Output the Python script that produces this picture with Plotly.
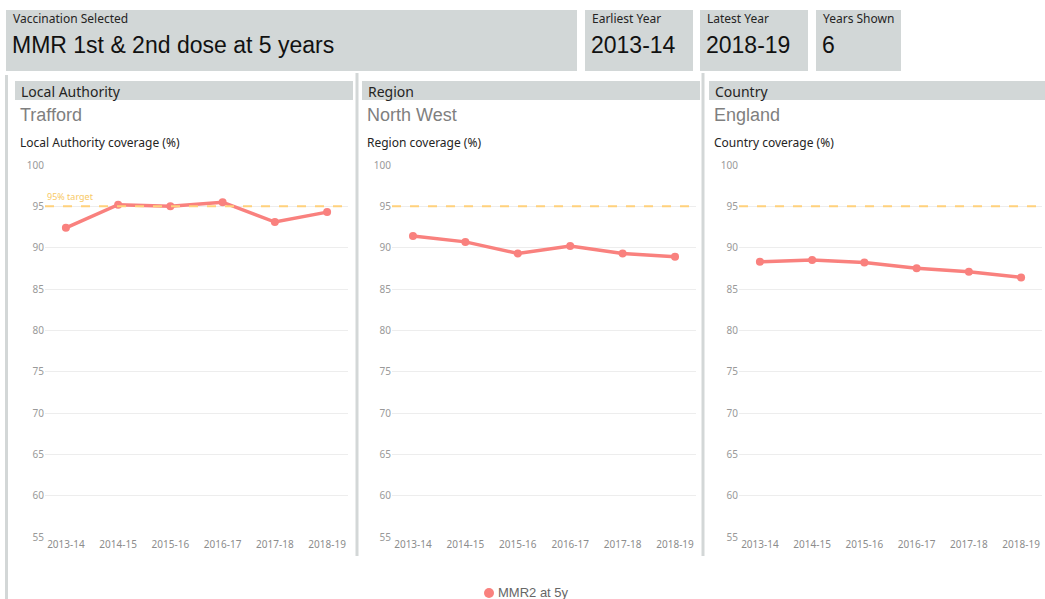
import plotly.graph_objects as go

W, H = 1045, 599

years = ["2013-14", "2014-15", "2015-16", "2016-17", "2017-18", "2018-19"]
la_values = [92.4, 95.2, 95.0, 95.5, 93.1, 94.3]
region_values = [91.4, 90.7, 89.3, 90.2, 89.3, 88.9]
country_values = [88.3, 88.5, 88.2, 87.5, 87.1, 86.4]
target_value = 95
series_name = "MMR2 at 5y"

panel_titles = ["Local Authority", "Region", "Country"]
panel_names = ["Trafford", "North West", "England"]
axis_titles = ["Local Authority coverage (%)", "Region coverage (%)", "Country coverage (%)"]
y_ticks = [55, 60, 65, 70, 75, 80, 85, 90, 95, 100]

vacc_label = "Vaccination Selected"
vacc_value = "MMR 1st & 2nd dose at 5 years"
card_labels = ["Earliest Year", "Latest Year", "Years Shown"]
card_values = ["2013-14", "2018-19", "6"]


def px(x):
    return x / W


def py(y):
    return 1 - y / H


LINE_COLOR = "#F9817E"
TARGET_COLOR = "#FFD17C"
BOX_COLOR = "#D2D7D7"
BORDER_COLOR = "#D3D7D7"
SMALL_FONT = "Noto Sans"
BIG_FONT = "Liberation Sans"

fig = go.Figure()

series = [la_values, region_values, country_values]
x_domains = [(45, 348), (392, 696), (739, 1042)]
panel_lefts = [15, 362, 709]
panel_rights = [353, 700, 1045]

shapes = []
annotations = []

# Top cards
cards = [(6, 577, vacc_label, vacc_value)] + [
    (x0, x1, lab, val)
    for (x0, x1), lab, val in zip([(585, 693), (700, 808), (816, 901)], card_labels, card_values)
]
for x0, x1, lab, val in cards:
    shapes.append(dict(type="rect", xref="paper", yref="paper", x0=px(x0), x1=px(x1),
                       y0=py(71), y1=py(10), fillcolor=BOX_COLOR, line=dict(width=0), layer="below"))
    annotations.append(dict(text=lab, xref="paper", yref="paper", x=px(x0 + 5), y=py(19),
                            xanchor="left", yanchor="middle", showarrow=False,
                            font=dict(family=SMALL_FONT, size=12, color="#252423")))
    annotations.append(dict(text=val, xref="paper", yref="paper", x=px(x0 + 4), y=py(45),
                            xanchor="left", yanchor="middle", showarrow=False,
                            font=dict(family=BIG_FONT, size=23, color="#111111")))

# Panel borders
for x, y0, y1 in [(6.5, 75, 599), (357, 73, 556), (703, 73, 556)]:
    shapes.append(dict(type="line", xref="paper", yref="paper", x0=px(x), x1=px(x),
                       y0=py(y1), y1=py(y0), line=dict(color=BORDER_COLOR, width=3), layer="below"))

for i in range(3):
    n = i + 1
    xa = "xaxis" if n == 1 else f"xaxis{n}"
    ya = "yaxis" if n == 1 else f"yaxis{n}"
    xr = "x" if n == 1 else f"x{n}"
    yr = "y" if n == 1 else f"y{n}"

    # header bar
    shapes.append(dict(type="rect", xref="paper", yref="paper", x0=px(panel_lefts[i]), x1=px(panel_rights[i]),
                       y0=py(100), y1=py(81), fillcolor=BOX_COLOR, line=dict(width=0), layer="below"))
    annotations.append(dict(text=panel_titles[i], xref="paper", yref="paper", x=px(panel_lefts[i] + 4), y=py(91),
                            xanchor="left", yanchor="middle", showarrow=False,
                            font=dict(family=SMALL_FONT, size=14, color="#252423")))
    annotations.append(dict(text=panel_names[i], xref="paper", yref="paper", x=px(panel_lefts[i] + 3), y=py(115),
                            xanchor="left", yanchor="middle", showarrow=False,
                            font=dict(family=BIG_FONT, size=18, color="#7F7F7F")))
    annotations.append(dict(text=axis_titles[i], xref="paper", yref="paper", x=px(panel_lefts[i] + 3), y=py(143),
                            xanchor="left", yanchor="middle", showarrow=False,
                            font=dict(family=SMALL_FONT, size=12, color="#252423")))

    fig.add_trace(go.Scatter(
        x=years, y=series[i], mode="lines+markers", name=series_name,
        line=dict(color=LINE_COLOR, width=3.5), marker=dict(color=LINE_COLOR, size=8),
        xaxis=xr, yaxis=yr, showlegend=False, hoverinfo="x+y"))

    # 95% target line
    shapes.append(dict(type="line", xref=f"{xr} domain", yref=yr, x0=0, x1=1,
                       y0=target_value, y1=target_value,
                       line=dict(color=TARGET_COLOR, width=2, dash="dash")))

    fig.update_layout(**{
        xa: dict(domain=[px(x_domains[i][0]), px(x_domains[i][1])], type="category",
                 categoryorder="array", categoryarray=years, range=[-0.4, 5.4],
                 showgrid=False, zeroline=False, showline=False, ticks="", automargin=False,
                 tickfont=dict(family=SMALL_FONT, size=10, color="#8C8C8C"), anchor=yr,
                 fixedrange=True),
        ya: dict(domain=[py(537), py(165)], range=[55, 100], tickvals=y_ticks,
                 showgrid=True, gridcolor="#EDEDED", gridwidth=1, zeroline=False, showline=False,
                 ticks="", tickfont=dict(family=SMALL_FONT, size=10, color="#999999"), automargin=False,
                 anchor=xr, fixedrange=True),
    })

annotations.append(dict(text="95% target", xref="x domain", yref="y", x=0, y=target_value,
                        xanchor="left", yanchor="bottom", yshift=1, showarrow=False,
                        font=dict(family=SMALL_FONT, size=9, color="#F8C965")))

# legend (drawn manually to match the compact marker/text spacing)
shapes.append(dict(type="circle", xref="paper", yref="paper",
                   x0=px(484), x1=px(494), y0=py(598), y1=py(588),
                   fillcolor=LINE_COLOR, line=dict(width=0)))
annotations.append(dict(text=series_name, xref="paper", yref="paper", x=px(496), y=py(592.5),
                        xanchor="left", yanchor="middle", showarrow=False,
                        font=dict(family=BIG_FONT, size=13, color="#666666")))

fig.update_layout(
    width=W, height=H, margin=dict(l=0, r=0, t=0, b=0),
    paper_bgcolor="white", plot_bgcolor="white",
    shapes=shapes, annotations=annotations,
    showlegend=False, autosize=False,
)

post = "document.body.style.margin='0';"
fig.write_html("out.html", post_script=post, config={"displayModeBar": False})
